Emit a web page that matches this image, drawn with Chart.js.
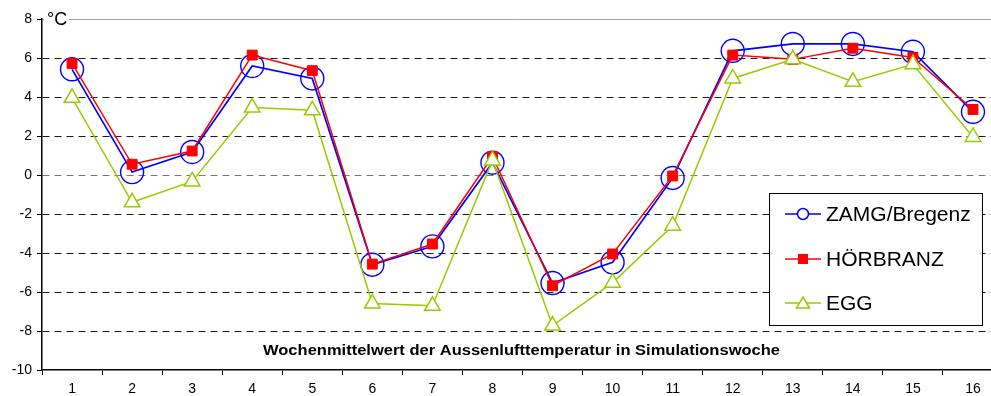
<!DOCTYPE html>
<html>
<head>
<meta charset="utf-8">
<script src="https://cdn.jsdelivr.net/npm/chart.js@4/dist/chart.umd.min.js"></script>
<style>
  html, body { margin: 0; padding: 0; background: #fff; }
  #wrap { width: 991px; height: 396px; }
</style>
</head>
<body>
<div id="wrap"><canvas id="temperaturChart" width="991" height="396"></canvas></div>
<script>
// Wochenmittelwerte (°C) je Simulationswoche
const wochen = [1, 2, 3, 4, 5, 6, 7, 8, 9, 10, 11, 12, 13, 14, 15, 16];
const zamg = [5.42, 0.15, 1.18, 5.59, 4.95, -4.6, -3.66, 0.63, -5.54, -4.48, -0.15, 6.37, 6.72, 6.72, 6.32, 3.24];
const hoerbranz = [5.72, 0.55, 1.23, 6.15, 5.35, -4.57, -3.54, 0.95, -5.68, -4.05, -0.05, 6.15, 5.93, 6.5, 6.03, 3.36];
const egg = [3.96, -1.4, -0.33, 3.46, 3.32, -6.59, -6.71, 0.75, -7.72, -5.52, -2.6, 4.95, 5.93, 4.78, 5.68, 1.95];
const yTicks = [-10, -8, -6, -4, -2, 0, 2, 4, 6, 8];
const titel = 'Wochenmittelwert der Aussenlufttemperatur in Simulationswoche';
const einheit = '°C';
const serien = ['ZAMG/Bregenz', 'HÖRBRANZ', 'EGG'];

const FONT = 'Liberation Sans, Arial, sans-serif';
const BLAU = '#0000ff';
const ROT = '#ff0000';
const GRUEN = '#99cc00';

// Tick-Positionen der x-Achse: Striche zwischen den Wochen, Beschriftung auf den Wochen
const xTicks = [];
wochen.forEach(w => { xTicks.push(w - 0.5); xTicks.push(w); });

function punkte(werte) {
  return wochen.map((w, i) => ({ x: w, y: werte[i] }));
}

// Legende, Einheit und Achsentitel
const extras = {
  id: 'extras',
  afterDraw(chart) {
    const ctx = chart.ctx;
    ctx.save();

    // Einheit oben links
    ctx.fillStyle = '#fff';
    ctx.fillRect(44, 9, 25, 20);
    ctx.fillStyle = '#000';
    ctx.font = '18px ' + FONT;
    ctx.textAlign = 'left';
    ctx.textBaseline = 'middle';
    ctx.fillText(einheit, 47, 20);

    // Achsentitel im Diagramm
    ctx.font = 'bold 14px ' + FONT;
    const w = ctx.measureText(titel).width;
    ctx.translate(521.5, 351.5);
    ctx.scale(517 / w, 1);
    ctx.textAlign = 'center';
    ctx.fillText(titel, 0, 0);
    ctx.setTransform(1, 0, 0, 1, 0, 0);

    // Legende
    ctx.fillStyle = '#fff';
    ctx.fillRect(769, 193, 213, 132);
    ctx.strokeStyle = '#000';
    ctx.lineWidth = 1;
    ctx.strokeRect(769.5, 193.5, 213, 132);

    const farben = [BLAU, ROT, GRUEN];
    const zeilen = [214, 259, 303];
    ctx.font = '21px ' + FONT;
    ctx.textAlign = 'left';
    zeilen.forEach((y, i) => {
      ctx.strokeStyle = farben[i];
      ctx.lineWidth = 1.5;
      ctx.beginPath();
      ctx.moveTo(785, y);
      ctx.lineTo(821, y);
      ctx.stroke();
      if (i === 0) {
        ctx.fillStyle = '#fff';
        ctx.beginPath();
        ctx.arc(803, y, 5.5, 0, Math.PI * 2);
        ctx.fill();
        ctx.stroke();
      } else if (i === 1) {
        ctx.fillStyle = ROT;
        ctx.fillRect(798, y - 5, 10, 10);
      } else {
        ctx.fillStyle = '#fff';
        ctx.beginPath();
        ctx.moveTo(803, y - 6);
        ctx.lineTo(809.5, y + 5);
        ctx.lineTo(796.5, y + 5);
        ctx.closePath();
        ctx.fill();
        ctx.stroke();
      }
      ctx.fillStyle = '#000';
      ctx.fillText(serien[i], 826, y + 1);
    });

    ctx.restore();
  }
};

new Chart(document.getElementById('temperaturChart'), {
  type: 'line',
  data: {
    datasets: [{
      label: serien[0],
      data: punkte(zamg),
      borderColor: BLAU,
      borderWidth: 1.7,
      pointStyle: 'circle',
      pointRadius: 11.5,
      pointBorderWidth: 1.4,
      pointBorderColor: BLAU,
      pointBackgroundColor: 'rgba(0,0,0,0)',
      order: 3
    }, {
      label: serien[1],
      data: punkte(hoerbranz),
      borderColor: ROT,
      borderWidth: 1.5,
      pointStyle: 'rect',
      pointRadius: 7,
      pointBorderWidth: 1,
      pointBorderColor: ROT,
      pointBackgroundColor: ROT,
      order: 2
    }, {
      label: serien[2],
      data: punkte(egg),
      borderColor: GRUEN,
      borderWidth: 1.5,
      pointStyle: 'triangle',
      pointRadius: 9,
      pointBorderWidth: 1.5,
      pointBorderColor: GRUEN,
      pointBackgroundColor: '#fff',
      order: 1
    }]
  },
  options: {
    responsive: false,
    animation: false,
    devicePixelRatio: 1,
    layout: { autoPadding: false, padding: { top: 19, left: 0, right: 0, bottom: 0 } },
    plugins: { legend: { display: false }, tooltip: { enabled: false } },
    elements: { line: { tension: 0 } },
    scales: {
      x: {
        type: 'linear',
        min: 0.5,
        max: 16.3,
        afterBuildTicks: s => { s.ticks = xTicks.map(v => ({ value: v })); },
        afterFit: s => { s.height = 26; s.paddingLeft = 0; s.paddingRight = 0; },
        ticks: {
          autoSkip: false,
          maxRotation: 0,
          padding: 6,
          color: '#000',
          font: { family: FONT, size: 14 },
          callback: v => Number.isInteger(v) ? String(v) : ''
        },
        grid: {
          drawOnChartArea: false,
          drawTicks: true,
          tickLength: 5,
          color: c => Number.isInteger(c.tick.value) ? 'rgba(0,0,0,0)' : '#000'
        },
        border: { color: '#000', width: 1.5 }
      },
      y: {
        min: -10,
        max: 8,
        afterBuildTicks: s => { s.ticks = yTicks.map(v => ({ value: v })); },
        afterFit: s => { s.width = 42; s.paddingTop = 0; s.paddingBottom = 0; },
        ticks: {
          padding: 5,
          color: '#000',
          font: { family: FONT, size: 14 }
        },
        grid: {
          drawTicks: true,
          tickLength: 5,
          tickColor: '#000',
          lineWidth: 1,
          color: c => {
            const v = c.tick.value;
            if (v === 8) return '#a0a0a0';
            if (v === -10) return 'rgba(0,0,0,0)';
            if (v === 0) return '#777';
            return '#1a1a1a';
          }
        },
        border: {
          color: '#000',
          width: 1.5,
          dash: c => (c.tick && c.tick.value === 8) ? [] : [7, 5]
        }
      }
    }
  },
  plugins: [extras]
});
</script>
</body>
</html>
